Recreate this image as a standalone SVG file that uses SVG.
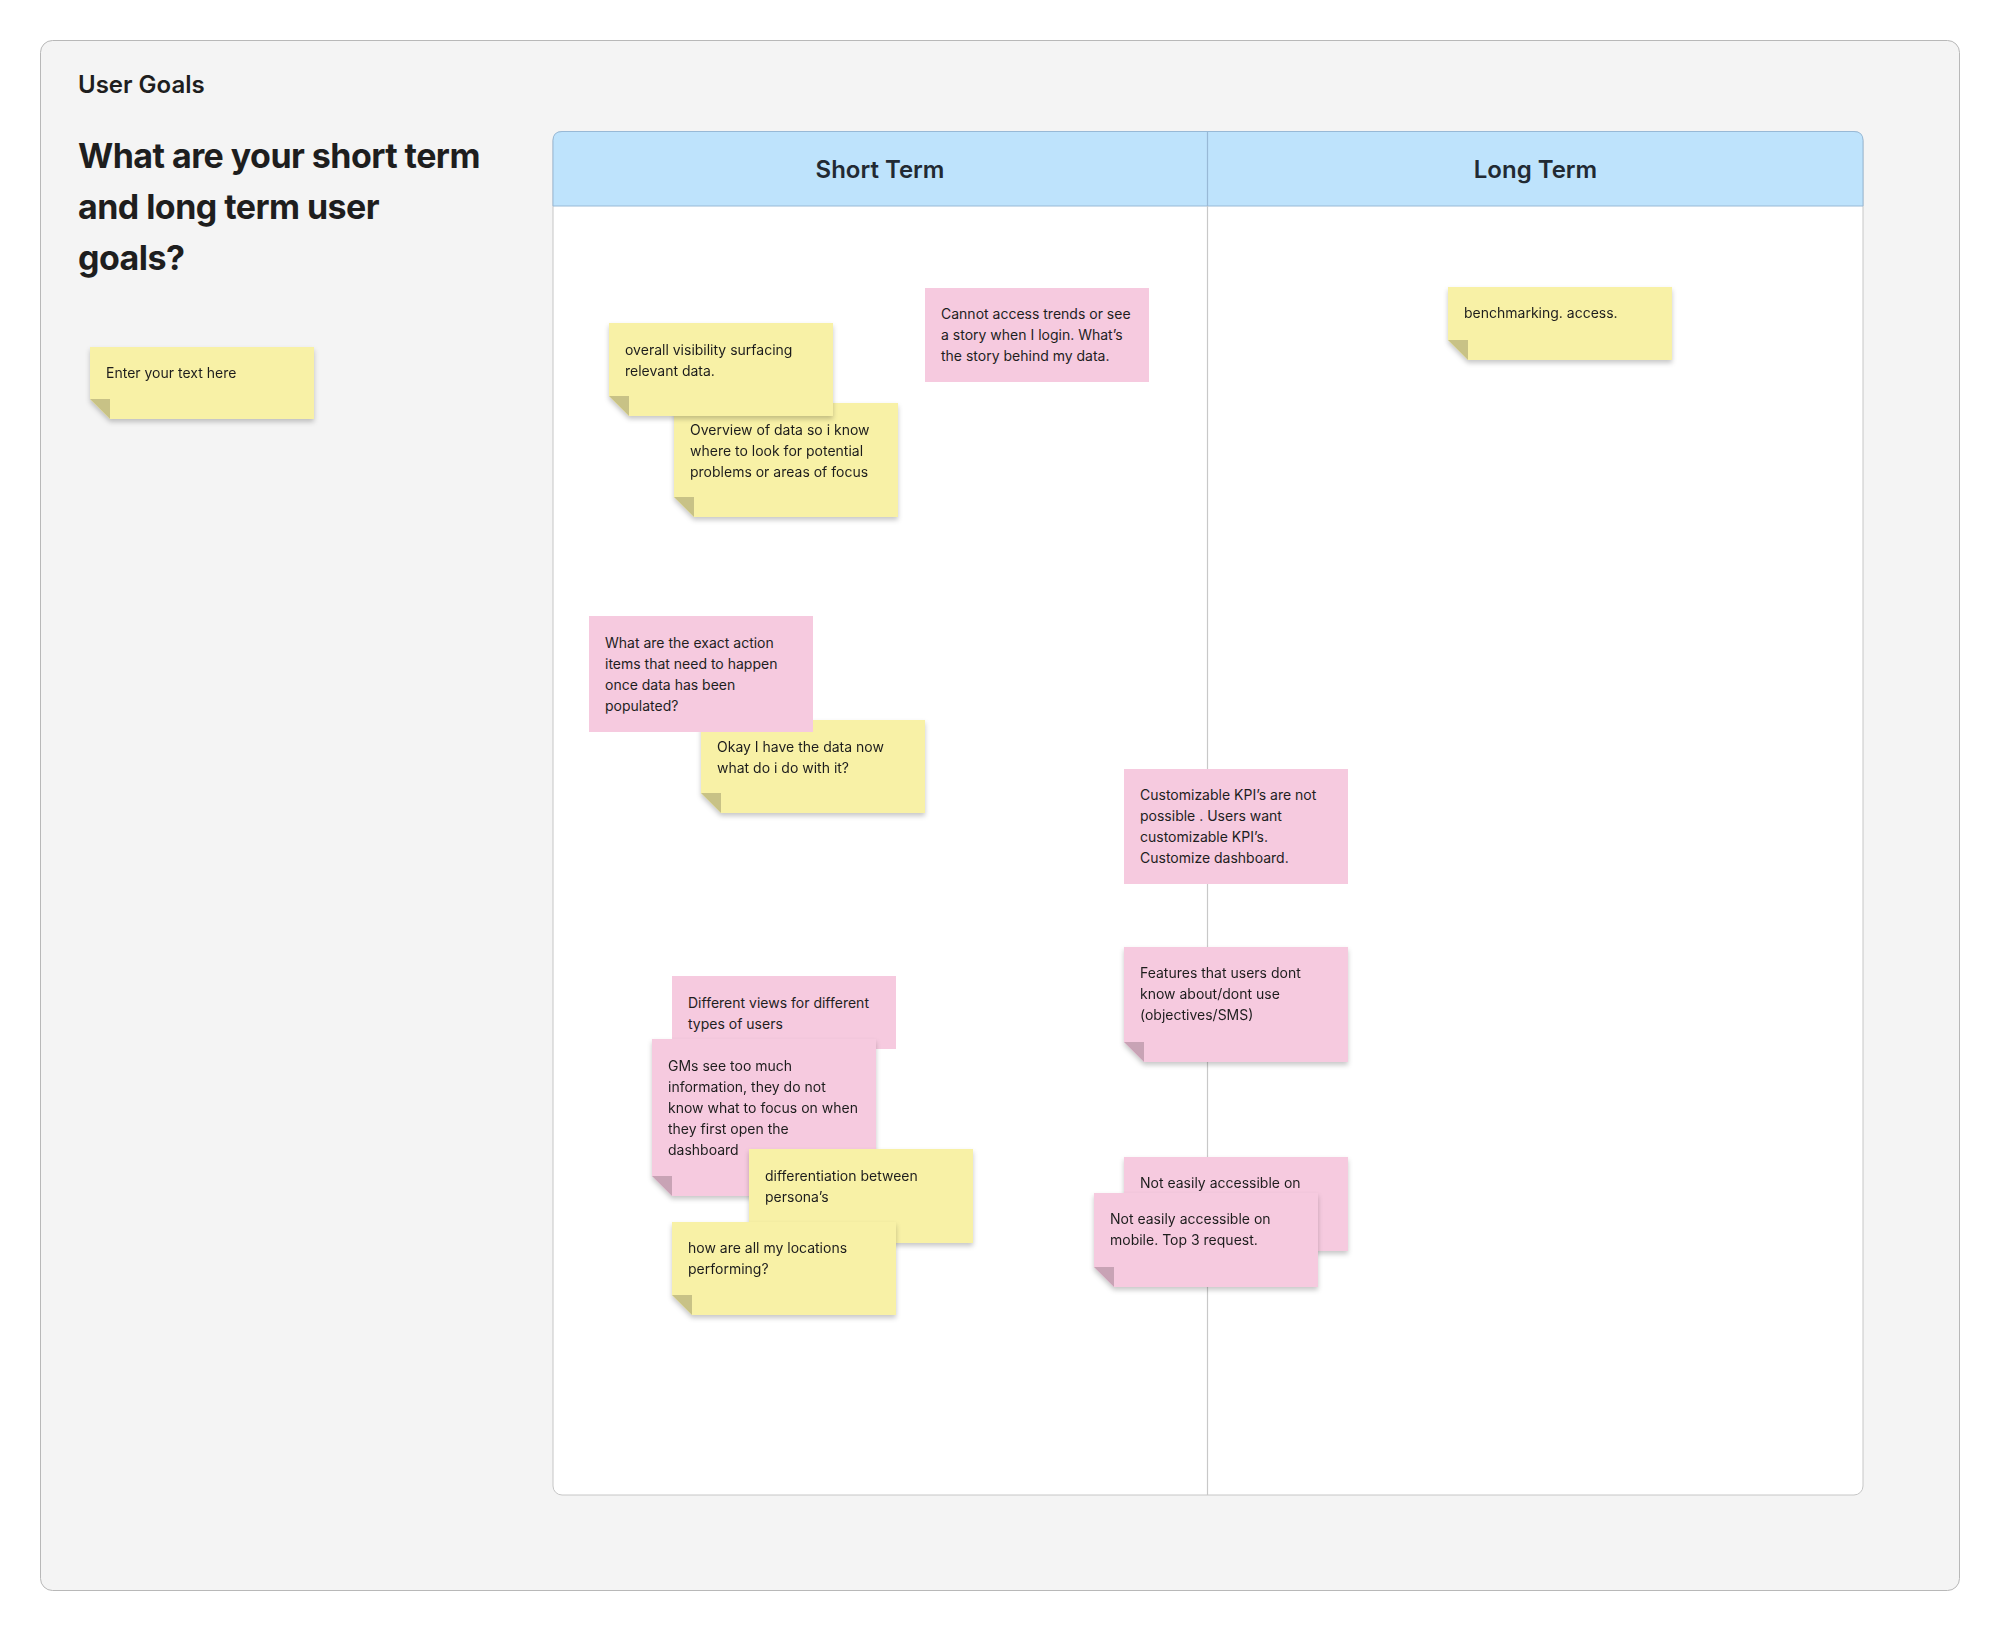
<svg xmlns="http://www.w3.org/2000/svg" width="2000" height="1632" viewBox="0 0 2000 1632">
<defs>
<style>
.t{font-family:Inter,"Liberation Sans",sans-serif;font-size:14px;fill:#1e1e1e}
.y{fill:#f8f1a6}
.yf{fill:#c8c286}
.p{fill:#f6cadf}
.pf{fill:#c8a3b5}
.hd{font-family:Inter,"Liberation Sans",sans-serif;font-size:24px;font-weight:600;fill:#222a33;text-anchor:middle}
</style>
<filter id="sh" x="-10%" y="-10%" width="120%" height="130%">
<feDropShadow dx="0" dy="3" stdDeviation="2.5" flood-color="#000" flood-opacity="0.22"/>
</filter>
</defs>
<rect x="0" y="0" width="2000" height="1632" fill="#ffffff"/>
<g id="frame">
<rect x="40.5" y="40.5" width="1919" height="1550" rx="12" fill="#f4f4f4" stroke="#b8b8b8" stroke-width="1"/>
<text x="78" y="93" font-family="Inter,'Liberation Sans',sans-serif" font-size="24" font-weight="600" fill="#1e1e1e">User Goals</text>
<text font-family="Inter,'Liberation Sans',sans-serif" font-size="34" font-weight="700" letter-spacing="-0.55" fill="#1e1e1e"><tspan x="78" y="168">What are your short term</tspan><tspan x="78" y="219">and long term user</tspan><tspan x="78" y="270">goals?</tspan></text>
</g>
<g id="table">
<rect x="553" y="131.5" width="1310" height="1363.5" rx="9" fill="#ffffff" stroke="#c6c6c6" stroke-width="1"/>
<path d="M553,206 V140.5 Q553,131.5 562,131.5 H1854 Q1863,131.5 1863,140.5 V206 Z" fill="#bee3fc" stroke="#98b9d6" stroke-width="1"/>
<line x1="1207.5" y1="131.5" x2="1207.5" y2="206" stroke="#98b9d6" stroke-width="1.2"/>
<line x1="1207.5" y1="206" x2="1207.5" y2="1495" stroke="#c8c8c8" stroke-width="1.2"/>
<text class="hd" x="880" y="178">Short Term</text>
<text class="hd" x="1535.5" y="178">Long Term</text>
</g>
<g id="sticky-enter" filter="url(#sh)">
<path class="y" d="M90,347 H314 V419 H110 L90,399 Z"/>
<path class="yf" d="M90,399 H110 V419 Z"/>
<text class="t" x="106" y="378">Enter your text here</text>
</g>
<g id="sticky-overview" filter="url(#sh)">
<path class="y" d="M674,403 H898 V517 H694 L674,497 Z"/>
<path class="yf" d="M674,497 H694 V517 Z"/>
<text class="t"><tspan x="690" y="435">Overview of data so i know</tspan><tspan x="690" y="456">where to look for potential</tspan><tspan x="690" y="477">problems or areas of focus</tspan></text>
</g>
<g id="sticky-overall" filter="url(#sh)">
<path class="y" d="M609,323 H833 V416 H629 L609,396 Z"/>
<path class="yf" d="M609,396 H629 V416 Z"/>
<text class="t"><tspan x="625" y="355">overall visibility surfacing</tspan><tspan x="625" y="376">relevant data.</tspan></text>
</g>
<g id="sticky-cannot">
<rect class="p" x="925" y="288" width="224" height="94"/>
<text class="t"><tspan x="941" y="319">Cannot access trends or see</tspan><tspan x="941" y="340">a story when I login. What’s</tspan><tspan x="941" y="361">the story behind my data.</tspan></text>
</g>
<g id="sticky-bench" filter="url(#sh)">
<path class="y" d="M1448,287 H1672 V360 H1468 L1448,340 Z"/>
<path class="yf" d="M1448,340 H1468 V360 Z"/>
<text class="t" x="1464" y="318">benchmarking. access.</text>
</g>
<g id="sticky-okay" filter="url(#sh)">
<path class="y" d="M701,720 H925 V813 H721 L701,793 Z"/>
<path class="yf" d="M701,793 H721 V813 Z"/>
<text class="t"><tspan x="717" y="752">Okay I have the data now</tspan><tspan x="717" y="773">what do i do with it?</tspan></text>
</g>
<g id="sticky-exact">
<rect class="p" x="589" y="616" width="224" height="116"/>
<text class="t"><tspan x="605" y="648">What are the exact action</tspan><tspan x="605" y="669">items that need to happen</tspan><tspan x="605" y="690">once data has been</tspan><tspan x="605" y="711">populated?</tspan></text>
</g>
<g id="sticky-custom">
<rect class="p" x="1124" y="769" width="224" height="115"/>
<text class="t"><tspan x="1140" y="800">Customizable KPI’s are not</tspan><tspan x="1140" y="821">possible . Users want</tspan><tspan x="1140" y="842">customizable KPI’s.</tspan><tspan x="1140" y="863">Customize dashboard.</tspan></text>
</g>
<g id="sticky-features" filter="url(#sh)">
<path class="p" d="M1124,947 H1348 V1062 H1144 L1124,1042 Z"/>
<path class="pf" d="M1124,1042 H1144 V1062 Z"/>
<text class="t"><tspan x="1140" y="978">Features that users dont</tspan><tspan x="1140" y="999">know about/dont use</tspan><tspan x="1140" y="1020">(objectives/SMS)</tspan></text>
</g>
<g id="sticky-views">
<rect class="p" x="672" y="976" width="224" height="73"/>
<text class="t"><tspan x="688" y="1008">Different views for different</tspan><tspan x="688" y="1029">types of users</tspan></text>
</g>
<g id="sticky-gms" filter="url(#sh)">
<path class="p" d="M652,1039 H876 V1196 H672 L652,1176 Z"/>
<path class="pf" d="M652,1176 H672 V1196 Z"/>
<text class="t"><tspan x="668" y="1071">GMs see too much</tspan><tspan x="668" y="1092">information, they do not</tspan><tspan x="668" y="1113">know what to focus on when</tspan><tspan x="668" y="1134">they first open the</tspan><tspan x="668" y="1155">dashboard</tspan></text>
</g>
<g id="sticky-persona" filter="url(#sh)">
<path class="y" d="M749,1149 H973 V1243 H769 L749,1223 Z"/>
<path class="yf" d="M749,1223 H769 V1243 Z"/>
<text class="t"><tspan x="765" y="1181">differentiation between</tspan><tspan x="765" y="1202">persona’s</tspan></text>
</g>
<g id="sticky-locations" filter="url(#sh)">
<path class="y" d="M672,1222 H896 V1315 H692 L672,1295 Z"/>
<path class="yf" d="M672,1295 H692 V1315 Z"/>
<text class="t"><tspan x="688" y="1253">how are all my locations</tspan><tspan x="688" y="1274">performing?</tspan></text>
</g>
<g id="sticky-mobile-back" filter="url(#sh)">
<path class="p" d="M1124,1157 H1348 V1251 H1144 L1124,1231 Z"/>
<path class="pf" d="M1124,1231 H1144 V1251 Z"/>
<text class="t" x="1140" y="1188">Not easily accessible on</text>
</g>
<g id="sticky-mobile-front" filter="url(#sh)">
<path class="p" d="M1094,1193 H1318 V1287 H1114 L1094,1267 Z"/>
<path class="pf" d="M1094,1267 H1114 V1287 Z"/>
<text class="t"><tspan x="1110" y="1224">Not easily accessible on</tspan><tspan x="1110" y="1245">mobile. Top 3 request.</tspan></text>
</g>
<g id="connectors"></g>
</svg>
